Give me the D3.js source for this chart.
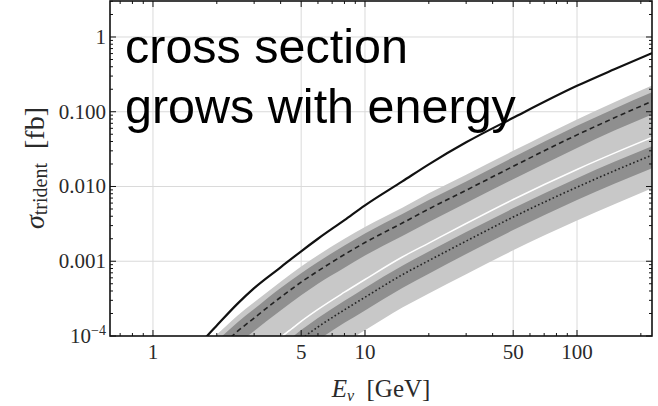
<!DOCTYPE html>
<html>
<head>
<meta charset="utf-8">
<script src="https://cdn.jsdelivr.net/npm/d3@7"></script>
<style>
  html, body { margin: 0; padding: 0; background: #fff; }
  svg { display: block; }
</style>
</head>
<body>
<svg id="chart" width="658" height="406"></svg>
<script>
// ---------- data ----------
const xTickLabels = [1, 5, 10, 50, 100];
const yTickValues = [1e-4, 1e-3, 1e-2, 1e-1, 1];
const yTickLabels = ["10^-4", "0.001", "0.010", "0.100", "1"];

// solid black curve
const solidE     = [1.7, 1.8, 2, 2.5, 3, 4, 5, 6, 8, 10, 15, 20, 30, 50, 100, 150, 226];
const solidSigma = [8.3e-5, 1.0e-4, 1.38e-4, 2.69e-4, 4.37e-4, 8.3e-4, 1.36e-3, 2.0e-3, 3.55e-3, 5.6e-3, 0.0117, 0.0198, 0.039, 0.083, 0.222, 0.37, 0.61];

// dashed curve and its bands
const dashedE       = [1.9, 2, 2.2, 2.5, 3, 4, 5, 6, 8, 10, 15, 20, 30, 50, 100, 150, 226];
const dashedSigma   = [5.6e-5, 6.5e-5, 8.3e-5, 1.15e-4, 1.74e-4, 3.3e-4, 5.25e-4, 7.4e-4, 1.23e-3, 1.78e-3, 3.24e-3, 5.0e-3, 8.9e-3, 0.0186, 0.049, 0.083, 0.138];
const dashedHigh2   = [9.1e-5, 1.05e-4, 1.34e-4, 1.86e-4, 2.82e-4, 5.3e-4, 8.5e-4, 1.2e-3, 2.0e-3, 2.88e-3, 5.2e-3, 8.1e-3, 0.0144, 0.030, 0.079, 0.134, 0.224];
const dashedHigh1   = [7.4e-5, 8.6e-5, 1.1e-4, 1.52e-4, 2.3e-4, 4.4e-4, 6.9e-4, 9.8e-4, 1.62e-3, 2.35e-3, 4.3e-3, 6.6e-3, 0.0117, 0.0246, 0.065, 0.110, 0.182];
const dashedLow1    = [3.8e-5, 4.4e-5, 5.6e-5, 7.7e-5, 1.17e-4, 2.2e-4, 3.5e-4, 5.0e-4, 8.2e-4, 1.19e-3, 2.17e-3, 3.35e-3, 6.0e-3, 0.0125, 0.0328, 0.056, 0.092];
const dashedLow2    = [1.7e-5, 1.95e-5, 2.5e-5, 3.45e-5, 5.2e-5, 9.9e-5, 1.58e-4, 2.22e-4, 3.7e-4, 5.3e-4, 9.7e-4, 1.5e-3, 2.67e-3, 5.6e-3, 0.0147, 0.025, 0.0414];

// dotted curve and its bands
const dottedE       = [3.7, 4, 4.5, 5, 6, 8, 10, 15, 20, 30, 50, 100, 150, 226];
const dottedSigma   = [4.6e-5, 5.5e-5, 7.2e-5, 9.1e-5, 1.32e-4, 2.24e-4, 3.3e-4, 6.6e-4, 1.02e-3, 1.86e-3, 3.9e-3, 9.8e-3, 0.0162, 0.0263];
const dottedHigh2   = [7.9e-5, 9.5e-5, 1.24e-4, 1.57e-4, 2.27e-4, 3.85e-4, 5.7e-4, 1.14e-3, 1.75e-3, 3.2e-3, 6.7e-3, 0.0169, 0.0279, 0.0452];
const dottedHigh1   = [6.1e-5, 7.3e-5, 9.5e-5, 1.2e-4, 1.74e-4, 2.96e-4, 4.4e-4, 8.7e-4, 1.35e-3, 2.46e-3, 5.1e-3, 0.0129, 0.0214, 0.0347];
const dottedLow1    = [3.1e-5, 3.7e-5, 4.8e-5, 6.1e-5, 8.8e-5, 1.5e-4, 2.2e-4, 4.4e-4, 6.8e-4, 1.25e-3, 2.61e-3, 6.6e-3, 0.0109, 0.0176];
const dottedLow2    = [1.66e-5, 2.0e-5, 2.6e-5, 3.3e-5, 4.8e-5, 8.1e-5, 1.19e-4, 2.4e-4, 3.7e-4, 6.7e-4, 1.4e-3, 3.5e-3, 5.8e-3, 9.5e-3];

const annotationLines = ["cross section", "grows with energy"];

// ---------- layout ----------
const L = 110, R = 652, T = 1, B = 336;
const svg = d3.select("#chart");

const x = d3.scaleLog().domain([0.627, 225.8]).range([L, R]);
const y = d3.scaleLog().domain([1e-4, 3.03]).range([B, T]);

const LIGHT = "#c8c8c8", DARK = "#8f8f8f";

svg.append("defs").append("clipPath").attr("id", "clip")
  .append("rect").attr("x", L).attr("y", T).attr("width", R - L).attr("height", B - T);

// grid
const grid = svg.append("g").attr("stroke", "#dadada").attr("stroke-width", 1);
xTickLabels.forEach(v => grid.append("line")
  .attr("x1", x(v)).attr("x2", x(v)).attr("y1", T).attr("y2", B));
yTickValues.slice(1).forEach(v => grid.append("line")
  .attr("y1", y(v)).attr("y2", y(v)).attr("x1", L).attr("x2", R));

const plot = svg.append("g").attr("clip-path", "url(#clip)");

function band(E, lo, hi, fill) {
  const area = d3.area()
    .x((d, i) => x(E[i]))
    .y0((d, i) => y(lo[i]))
    .y1((d, i) => y(hi[i]))
    .curve(d3.curveMonotoneX);
  plot.append("path").datum(E).attr("d", area).attr("fill", fill);
}
function line(E, S, stroke, width, dash) {
  const gen = d3.line().x((d, i) => x(E[i])).y((d, i) => y(S[i])).curve(d3.curveMonotoneX);
  const p = plot.append("path").datum(E).attr("d", gen)
    .attr("fill", "none").attr("stroke", stroke).attr("stroke-width", width);
  if (dash) p.attr("stroke-dasharray", dash);
  return p;
}

band(dashedE, dashedLow2, dashedHigh2, LIGHT);
band(dottedE, dottedLow2, dottedHigh2, LIGHT);
line(dottedE, dottedHigh2, "#ffffff", 1.5);
band(dashedE, dashedLow1, dashedHigh1, DARK);
band(dottedE, dottedLow1, dottedHigh1, DARK);

line(solidE, solidSigma, "#111", 2.2);
line(dashedE, dashedSigma, "#222", 1.6, "5,3.5");
line(dottedE, dottedSigma, "#222", 1.6, "1.6,2.4");

// ticks (inward on all sides)
function minorDecades(lo, hi) {
  const out = [];
  for (let e = lo; e <= hi; e++) for (let m = 1; m <= 9; m++) out.push(m * Math.pow(10, e));
  return out;
}
const xAll = minorDecades(-1, 2).filter(v => v >= 0.627 && v <= 225.8);
const xMajor = new Set(xTickLabels);
const yAll = minorDecades(-4, 0).filter(v => v >= 1e-4 && v <= 3.03);
const yMajor = new Set(yTickValues);

const ticks = svg.append("g").attr("stroke", "#111").attr("stroke-width", 1);
xAll.forEach(v => {
  const len = xMajor.has(v) ? 6 : 3;
  ticks.append("line").attr("x1", x(v)).attr("x2", x(v)).attr("y1", B).attr("y2", B - len);
  ticks.append("line").attr("x1", x(v)).attr("x2", x(v)).attr("y1", T).attr("y2", T + len);
});
yAll.forEach(v => {
  const len = yMajor.has(v) ? 6 : 3;
  ticks.append("line").attr("y1", y(v)).attr("y2", y(v)).attr("x1", L).attr("x2", L + len);
  ticks.append("line").attr("y1", y(v)).attr("y2", y(v)).attr("x1", R).attr("x2", R - len);
});

// frame
svg.append("rect").attr("x", L).attr("y", T).attr("width", R - L).attr("height", B - T)
  .attr("fill", "none").attr("stroke", "#111").attr("stroke-width", 1.6);

// tick labels
const serif = "'Liberation Serif', 'DejaVu Serif', serif";
const labelColor = "#2a2a2a";
const xl = svg.append("g").attr("font-family", serif).attr("font-size", 21)
  .attr("fill", labelColor).attr("text-anchor", "middle");
xTickLabels.forEach(v => xl.append("text").attr("x", x(v)).attr("y", 359).text(v));

const yl = svg.append("g").attr("font-family", serif).attr("font-size", 21)
  .attr("fill", labelColor).attr("text-anchor", "end");
yTickValues.forEach((v, i) => {
  const lab = yTickLabels[i];
  const t = yl.append("text").attr("x", 106).attr("y", y(v) + 7);
  if (lab.startsWith("10^")) {
    t.append("tspan").text("10");
    t.append("tspan").attr("dy", -8).attr("font-size", 14).text("\u2212" + lab.slice(4));
  } else {
    t.text(lab);
  }
});

// axis titles
const xt = svg.append("text").attr("x", 381).attr("y", 397)
  .attr("text-anchor", "middle").attr("font-family", serif).attr("font-size", 25).attr("fill", labelColor);
xt.append("tspan").attr("font-style", "italic").text("E");
xt.append("tspan").attr("font-style", "italic").attr("font-size", 16).attr("dy", 4).text("\u03bd");
xt.append("tspan").attr("dy", -4).text("\u2002[GeV]");

const yt = svg.append("text").attr("transform", "translate(44,168) rotate(-90)")
  .attr("text-anchor", "middle").attr("font-family", serif).attr("font-size", 28).attr("fill", labelColor);
yt.append("tspan").attr("font-style", "italic").text("\u03c3");
yt.append("tspan").attr("font-size", 20).attr("dy", 3).text("trident");
yt.append("tspan").attr("dy", -3).text("\u2002[fb]");

// annotation
const ann = svg.append("g").attr("font-family", "'Liberation Sans', Arial, sans-serif")
  .attr("font-size", 48.5).attr("fill", "#000");
annotationLines.forEach((s, i) => ann.append("text").attr("x", 125).attr("y", 63 + i * 60).text(s));
</script>
</body>
</html>
